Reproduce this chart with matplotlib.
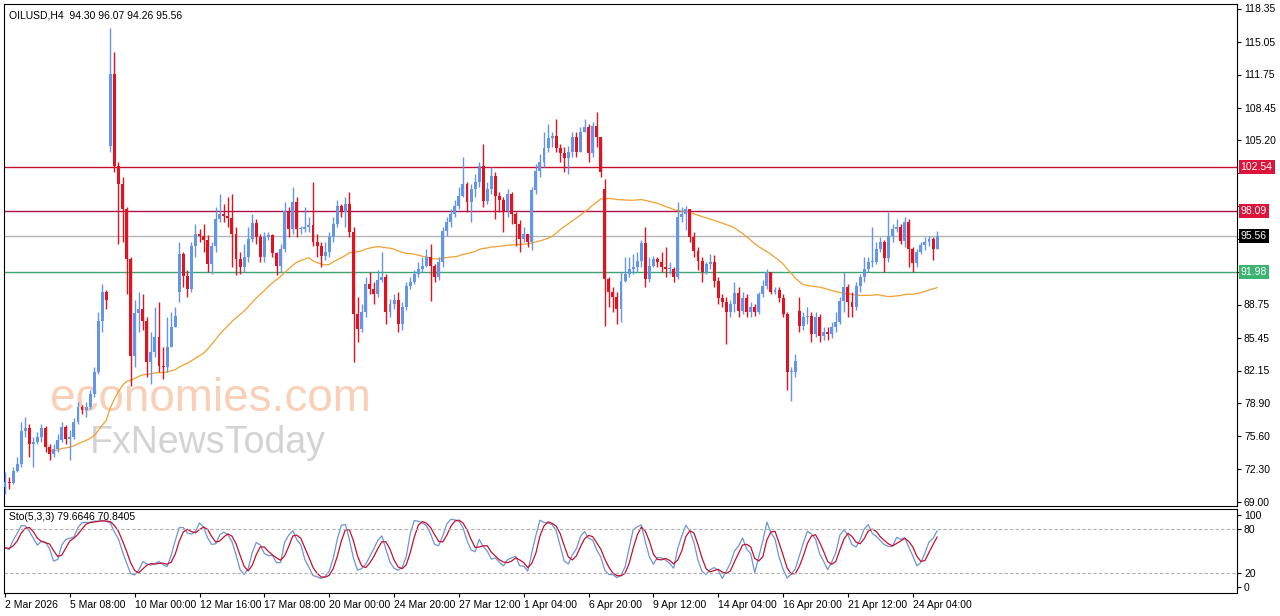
import numpy as np
import pandas as pd
import matplotlib
matplotlib.use("Agg")
import matplotlib.pyplot as plt

closes = [71.0,70.9,72.1,72.8,76.1,76.4,74.8,75.0,75.5,76.4,74.5,73.8,74.3,75.2,76.5,75.3,75.5,77.0,78.5,78.2,
78.5,79.8,82.0,87.1,90.0,89.2,111.8,102.6,100.8,98.3,93.3,83.6,87.9,88.3,87.1,83.0,84.0,85.5,82.6,82.5,
84.5,86.5,87.6,93.8,91.6,90.3,94.6,95.8,95.6,95.2,92.8,94.6,97.3,97.8,97.6,97.4,95.8,93.3,92.5,93.5,
95.3,96.9,95.5,93.5,95.5,95.7,93.9,92.6,94.3,98.1,96.3,99.0,96.3,96.3,96.5,96.7,95.0,94.6,93.6,94.0,
95.5,96.8,98.6,98.0,98.8,96.0,87.8,86.3,88.0,90.8,90.3,89.8,91.2,91.5,88.0,88.8,89.2,86.8,88.5,90.6,
91.0,91.8,92.3,92.6,93.5,92.6,91.5,93.0,96.1,97.0,97.8,98.6,99.6,100.8,99.0,100.3,101.0,102.6,99.1,100.3,
101.6,99.6,99.2,98.1,99.8,97.8,96.8,95.3,95.8,95.0,100.2,102.1,103.0,104.4,105.4,105.6,104.4,103.9,103.4,104.0,
105.5,104.0,106.0,106.5,103.9,106.6,105.5,102.0,91.3,90.0,89.5,88.3,91.1,91.8,92.3,92.5,93.1,94.9,91.3,92.6,
93.3,93.0,92.5,92.3,92.3,91.5,97.5,97.8,98.3,95.5,94.1,93.1,92.0,92.8,93.0,91.1,89.4,89.0,88.0,88.8,
89.9,88.1,89.4,88.0,88.5,88.0,89.8,90.6,92.0,90.0,90.2,89.4,87.8,82.0,82.0,83.1,86.6,87.5,87.6,85.8,
87.5,85.6,86.0,85.8,86.5,87.0,89.1,90.5,89.0,88.5,90.6,91.5,92.3,93.0,93.0,94.3,95.0,93.4,95.6,96.3,
96.5,95.1,97.0,94.3,92.9,94.0,94.7,95.0,95.3,94.3,95.56]
highs = [72.0,71.5,72.5,73.5,77.0,77.5,76.8,75.5,76.0,76.8,76.6,74.8,74.8,75.8,77.0,76.7,76.2,77.4,79.0,78.7,
79.0,80.2,82.5,88.0,90.8,90.2,116.4,114.0,103.0,101.5,98.5,93.5,89.2,90.0,89.8,87.5,86.0,88.5,89.0,84.5,
87.5,88.0,88.5,95.0,94.0,92.2,95.0,96.8,96.3,96.8,95.7,95.0,98.5,99.8,98.8,99.5,99.8,96.5,94.0,94.8,
96.5,97.8,97.3,95.8,96.0,96.0,95.8,94.0,94.8,99.0,98.5,100.5,99.5,96.6,98.5,97.5,101.0,95.8,95.0,95.0,
96.0,97.5,99.2,98.8,99.5,100.0,96.5,89.5,88.8,91.5,92.0,91.0,92.2,94.0,91.8,89.3,89.8,90.0,89.0,91.0,
91.5,92.2,93.0,93.5,94.3,94.8,92.8,93.5,96.5,97.5,98.3,99.2,100.5,103.5,101.0,100.8,101.8,103.0,104.8,101.0,
102.5,102.0,100.0,99.5,100.3,100.0,98.0,97.2,96.5,95.8,100.5,102.8,103.8,106.0,106.8,106.0,107.3,104.8,104.5,104.6,
106.0,106.0,106.5,107.3,106.8,107.0,108.0,105.5,101.3,91.5,90.5,90.0,92.0,93.5,93.5,93.8,94.0,95.2,96.5,93.5,
93.6,93.5,94.0,94.5,93.0,92.5,99.0,98.5,98.6,98.3,96.0,94.5,93.5,93.0,93.8,93.7,91.5,89.8,89.5,89.2,
91.0,90.5,90.0,89.8,89.0,88.8,90.0,91.2,92.3,92.0,90.5,90.5,89.8,88.0,82.5,83.8,89.5,88.0,88.5,88.0,
88.0,87.8,86.5,86.5,87.0,88.0,89.5,92.0,90.8,90.0,91.0,91.8,93.5,93.5,96.5,95.0,95.5,95.2,98.0,96.8,
97.3,96.8,97.5,97.3,94.5,94.3,95.0,95.5,95.6,95.5,96.07]
lows = [69.8,70.3,70.8,72.0,72.5,75.5,73.5,72.5,74.8,75.0,74.0,73.2,73.5,74.0,75.0,74.8,73.2,75.3,76.8,77.8,
77.5,78.3,79.5,81.8,86.0,88.3,104.0,102.0,94.8,95.0,89.8,80.6,82.5,86.0,86.2,81.5,80.8,83.5,82.0,81.3,
82.0,84.5,86.5,89.0,90.5,89.5,90.0,93.5,95.0,94.0,92.0,91.8,94.0,97.0,97.0,96.5,92.5,91.7,91.8,92.0,
93.0,95.0,94.8,93.0,93.0,95.2,93.5,91.7,92.0,94.0,95.5,95.8,95.5,95.8,96.0,96.0,94.6,93.5,92.5,93.2,
93.5,95.0,96.5,97.5,96.5,95.5,83.0,85.0,86.0,87.5,89.8,88.8,89.5,91.0,86.8,87.5,88.3,86.0,86.2,88.2,
90.3,90.8,91.5,92.0,92.5,89.1,91.0,91.2,92.5,95.6,96.5,97.5,98.3,99.5,98.0,97.0,99.5,100.5,98.5,98.8,
99.8,97.3,98.0,96.0,97.5,96.8,94.6,94.0,95.0,94.5,94.2,99.8,101.5,102.5,104.0,104.5,104.0,103.0,102.0,101.8,
103.5,103.5,104.0,106.0,103.0,103.5,104.5,101.5,86.6,88.5,88.0,86.8,87.0,91.0,91.5,91.8,92.0,92.5,90.5,91.0,
92.5,92.5,92.0,91.5,91.8,91.0,91.3,97.0,96.2,95.0,93.5,92.2,91.0,91.8,92.3,90.5,88.8,88.5,84.8,87.5,
88.0,87.5,87.8,87.5,87.5,87.6,87.8,89.5,90.3,89.8,89.8,89.0,87.5,80.2,79.1,81.5,86.0,86.2,86.8,85.0,
85.5,85.0,85.2,85.2,85.4,86.0,86.8,88.0,87.5,87.5,88.2,90.0,91.0,92.0,92.5,92.8,94.0,92.0,93.0,95.0,
96.0,94.8,94.5,92.5,92.0,92.5,93.8,94.2,94.6,93.2,94.26]
gap_opens = {0: 70.5, 26: 104.6, 43: 90.0, 148: 100.3, 196: 88.1, 230: 94.30}
levels = [102.54, 98.09, 95.56, 91.98]
level_colors = ["#C8102E", "#B0104A", "#B4B4B4", "#3CA370"]
label_bg = ["#DC143C", "#DC143C", "#000000", "#3CB371"]
yticks = [118.35,115.05,111.75,108.45,105.20,101.90,98.60,95.30,92.00,88.75,85.45,82.15,78.90,75.60,72.30,69.00]
hidden_ticks = [101.90, 98.60, 95.30, 92.00]
date_labels = ["2 Mar 2026","5 Mar 08:00","10 Mar 00:00","12 Mar 16:00","17 Mar 08:00","20 Mar 00:00",
"24 Mar 20:00","27 Mar 12:00","1 Apr 04:00","6 Apr 20:00","9 Apr 12:00","14 Apr 04:00","16 Apr 20:00",
"21 Apr 12:00","24 Apr 04:00"]

plt.rcParams['font.family'] = ['Liberation Sans', 'DejaVu Sans']

n = min(len(closes), len(highs), len(lows))
c = np.array(closes[:n]); h = np.array(highs[:n]); l = np.array(lows[:n])
o = np.concatenate([[c[0]], c[:-1]])
for k, v in gap_opens.items():
    if k < n:
        o[k] = v
h = np.maximum(h, np.maximum(o, c)); l = np.minimum(l, np.minimum(o, c))
x = np.arange(n)

df = pd.DataFrame({"h": h, "l": l, "c": c})
ma = df["c"].rolling(50, min_periods=12).mean()
ll = df["l"].rolling(5, min_periods=1).min(); hh = df["h"].rolling(5, min_periods=1).max()
num = (df["c"] - ll).rolling(3, min_periods=1).sum(); den = (hh - ll).rolling(3, min_periods=1).sum()
k_line = 100 * num / den
d_line = k_line.rolling(3, min_periods=1).mean()

UP = "#6495ED"; DN = "#E0141E"
fig = plt.figure(figsize=(12.8, 6.16), dpi=100)
ax = fig.add_axes([4/1280, 1-506/616, 1233/1280, 502/616])
ax2 = fig.add_axes([4/1280, 1-593/616, 1233/1280, 84/616], sharex=ax)

for i in range(n):
    col = UP if c[i] >= o[i] else DN
    ax.vlines(x[i], l[i], h[i], color=col, lw=1, zorder=3)
    lo, hi = min(o[i], c[i]), max(o[i], c[i])
    ax.bar(x[i], max(hi-lo, 0.12), bottom=lo, width=0.72, color=col, lw=0, zorder=4)
ax.plot(x, ma, color="#F0A030", lw=0.9, zorder=2)
for lv, lc in zip(levels, level_colors):
    ax.axhline(lv, color=lc, lw=1, zorder=1)

ax.set_xlim(-0.25, 304)
ax.set_ylim(68.6, 118.8)
ax.yaxis.tick_right()
ax.set_yticks(yticks)
ax.set_yticklabels(["" if t in hidden_ticks else f"{t:.2f}" for t in yticks], fontsize=7.5)
ax.tick_params(axis="y", length=3, pad=2)
ax.tick_params(axis="x", bottom=False, labelbottom=False)
for lv, bg in zip(levels, label_bg):
    ax.text(1.003, lv, f"{lv:.2f}", transform=ax.get_yaxis_transform(), va="center", ha="left",
            fontsize=7.5, color="white", zorder=10, clip_on=False,
            bbox=dict(boxstyle="square,pad=0.2", fc=bg, ec="none"))
ax.text(0.004, 0.988, "OILUSD,H4  94.30 96.07 94.26 95.56", transform=ax.transAxes, fontsize=7.5, va="top")
ax.text(0.037, 0.19, "economies.com", transform=ax.transAxes, fontsize=33, color="#F4A070", alpha=0.5, zorder=0)
ax.text(0.07, 0.105, "FxNewsToday", transform=ax.transAxes, fontsize=27, color="#A8A8A8", alpha=0.5, zorder=0)

ax2.plot(x, k_line, color="#6A96D8", lw=0.9)
ax2.plot(x, d_line, color="#C8102E", lw=0.9)
for lv in (80, 20):
    ax2.axhline(lv, color="#B0B0B0", lw=0.8, ls=(0, (3, 2)))
ax2.set_ylim(-8.3, 108.3)
ax2.yaxis.tick_right()
ax2.set_yticks([100, 80, 20, 0])
ax2.set_yticklabels(["100", "80", "20", "0"], fontsize=7.5)
ax2.tick_params(axis="y", length=3, pad=2)
ax2.text(0.004, 0.96, "Sto(5,3,3) 79.6646 70.8405", transform=ax2.transAxes, fontsize=7.5, va="top")
pos = [16*i for i in range(len(date_labels))]
ax2.set_xticks(pos)
ax2.set_xticklabels(date_labels, fontsize=7.5, ha="left")
ax2.tick_params(axis="x", length=3, pad=2)
for a in (ax, ax2):
    for s in a.spines.values():
        s.set_linewidth(0.8)
fig.savefig("out.png", dpi=100)
